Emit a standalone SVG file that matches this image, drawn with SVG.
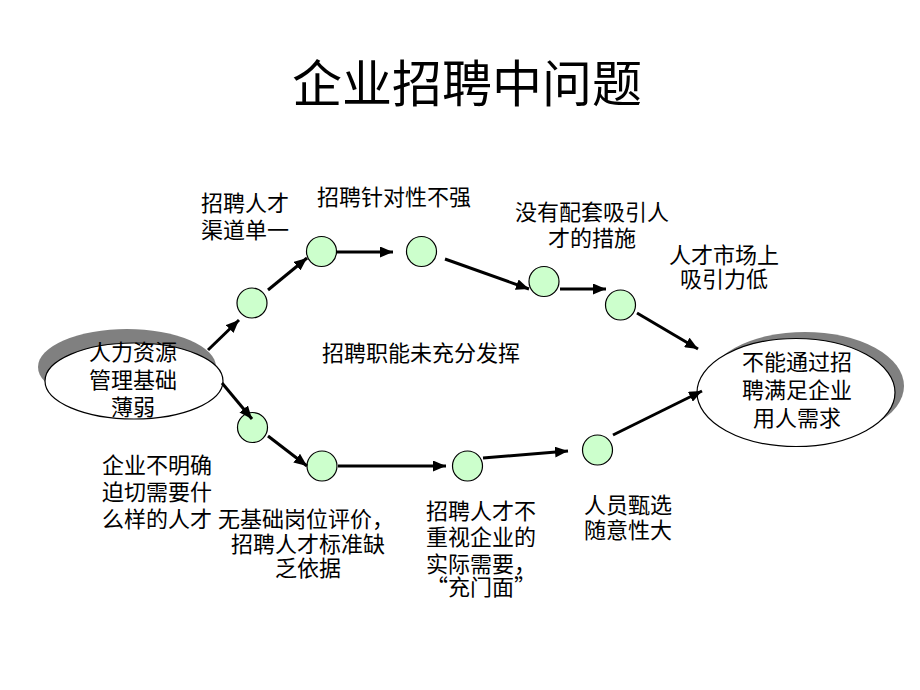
<svg xmlns="http://www.w3.org/2000/svg" width="920" height="690" viewBox="0 0 920 690">
  <defs>
    <marker id="arr" markerUnits="userSpaceOnUse" markerWidth="13" markerHeight="11" viewBox="0 0 13 11" refX="13" refY="5.5" orient="auto">
      <path d="M0,0 L13,5.5 L0,11 z" fill="#000"/>
    </marker>
    <style>
      text { font-family: "Noto Sans CJK SC", "Noto Sans", sans-serif; fill: #000; }
      .lbl { font-size: 22px; }
      .title { font-size: 50px; }
      .dot { fill: #ccffcc; stroke: #000; stroke-width: 1.2; }
      .ell { fill: #fff; stroke: #000; stroke-width: 1.2; }
      .shadow { fill: #808080; }
      .conn line { stroke: #000; stroke-width: 3; marker-end: url(#arr); }
    </style>
  </defs>
  <rect width="920" height="690" fill="#fff"/>

  <text class="title" x="467" y="102" text-anchor="middle">企业招聘中问题</text>

  <g id="start">
    <ellipse class="shadow" cx="127" cy="367" rx="89" ry="38"/>
    <ellipse class="ell" cx="134" cy="381" rx="89" ry="38"/>
    <text class="lbl" text-anchor="middle"><tspan x="133" y="360">人力资源</tspan><tspan x="133" y="388">管理基础</tspan><tspan x="133" y="415">薄弱</tspan></text>
  </g>

  <g id="end">
    <ellipse class="shadow" cx="805" cy="386" rx="99" ry="54"/>
    <ellipse class="ell" cx="796" cy="392.5" rx="99" ry="54"/>
    <text class="lbl" text-anchor="middle"><tspan x="797" y="370">不能通过招</tspan><tspan x="797" y="398">聘满足企业</tspan><tspan x="797" y="426">用人需求</tspan></text>
  </g>

  <g id="n1"><circle class="dot" cx="252" cy="303" r="15"/></g>
  <g id="n2"><circle class="dot" cx="321.5" cy="251.5" r="15"/></g>
  <g id="n3"><circle class="dot" cx="421.5" cy="251.5" r="15"/></g>
  <g id="n4"><circle class="dot" cx="544" cy="281.5" r="15"/></g>
  <g id="n5"><circle class="dot" cx="620.5" cy="305" r="15"/></g>
  <g id="n6"><circle class="dot" cx="252.5" cy="427.5" r="15"/></g>
  <g id="n7"><circle class="dot" cx="322" cy="466" r="15"/></g>
  <g id="n8"><circle class="dot" cx="467.5" cy="466" r="15"/></g>
  <g id="n9"><circle class="dot" cx="597.5" cy="450" r="15"/></g>

  <g class="conn" id="connectors">
    <line x1="208" y1="350" x2="239" y2="320"/>
    <line x1="268" y1="290" x2="307" y2="258"/>
    <line x1="337" y1="252" x2="393" y2="252"/>
    <line x1="445" y1="259" x2="529" y2="289"/>
    <line x1="560" y1="289" x2="606" y2="289"/>
    <line x1="637" y1="313" x2="698" y2="349"/>
    <line x1="222" y1="383" x2="252" y2="419"/>
    <line x1="268" y1="436" x2="307" y2="466"/>
    <line x1="338" y1="466" x2="446" y2="466"/>
    <line x1="483" y1="458" x2="568" y2="451"/>
    <line x1="613" y1="435" x2="702" y2="391"/>
  </g>

  <g id="labels">
    <text class="lbl" x="201" y="211">招聘人才</text>
    <text class="lbl" x="201" y="238">渠道单一</text>
    <text class="lbl" x="317" y="205">招聘针对性不强</text>
    <text class="lbl" text-anchor="middle"><tspan x="592" y="220">没有配套吸引人</tspan><tspan x="592" y="246">才的措施</tspan></text>
    <text class="lbl" text-anchor="middle"><tspan x="724" y="263">人才市场上</tspan><tspan x="724" y="287">吸引力低</tspan></text>
    <text class="lbl" x="421" y="361" text-anchor="middle">招聘职能未充分发挥</text>
    <text class="lbl" text-anchor="middle"><tspan x="157" y="473">企业不明确</tspan><tspan x="157" y="500">迫切需要什</tspan><tspan x="157" y="527">么样的人才</tspan></text>
    <text class="lbl" text-anchor="middle"><tspan x="306" y="527">无基础岗位评价，</tspan><tspan x="308" y="552">招聘人才标准缺</tspan><tspan x="308" y="576">乏依据</tspan></text>
    <text class="lbl"><tspan x="426" y="519">招聘人才不</tspan><tspan x="426" y="545">重视企业的</tspan><tspan x="426" y="572">实际需要，</tspan><tspan x="426" y="595">“充门面”</tspan></text>
    <text class="lbl" text-anchor="middle"><tspan x="628" y="513">人员甄选</tspan><tspan x="628" y="538">随意性大</tspan></text>
  </g>
</svg>
